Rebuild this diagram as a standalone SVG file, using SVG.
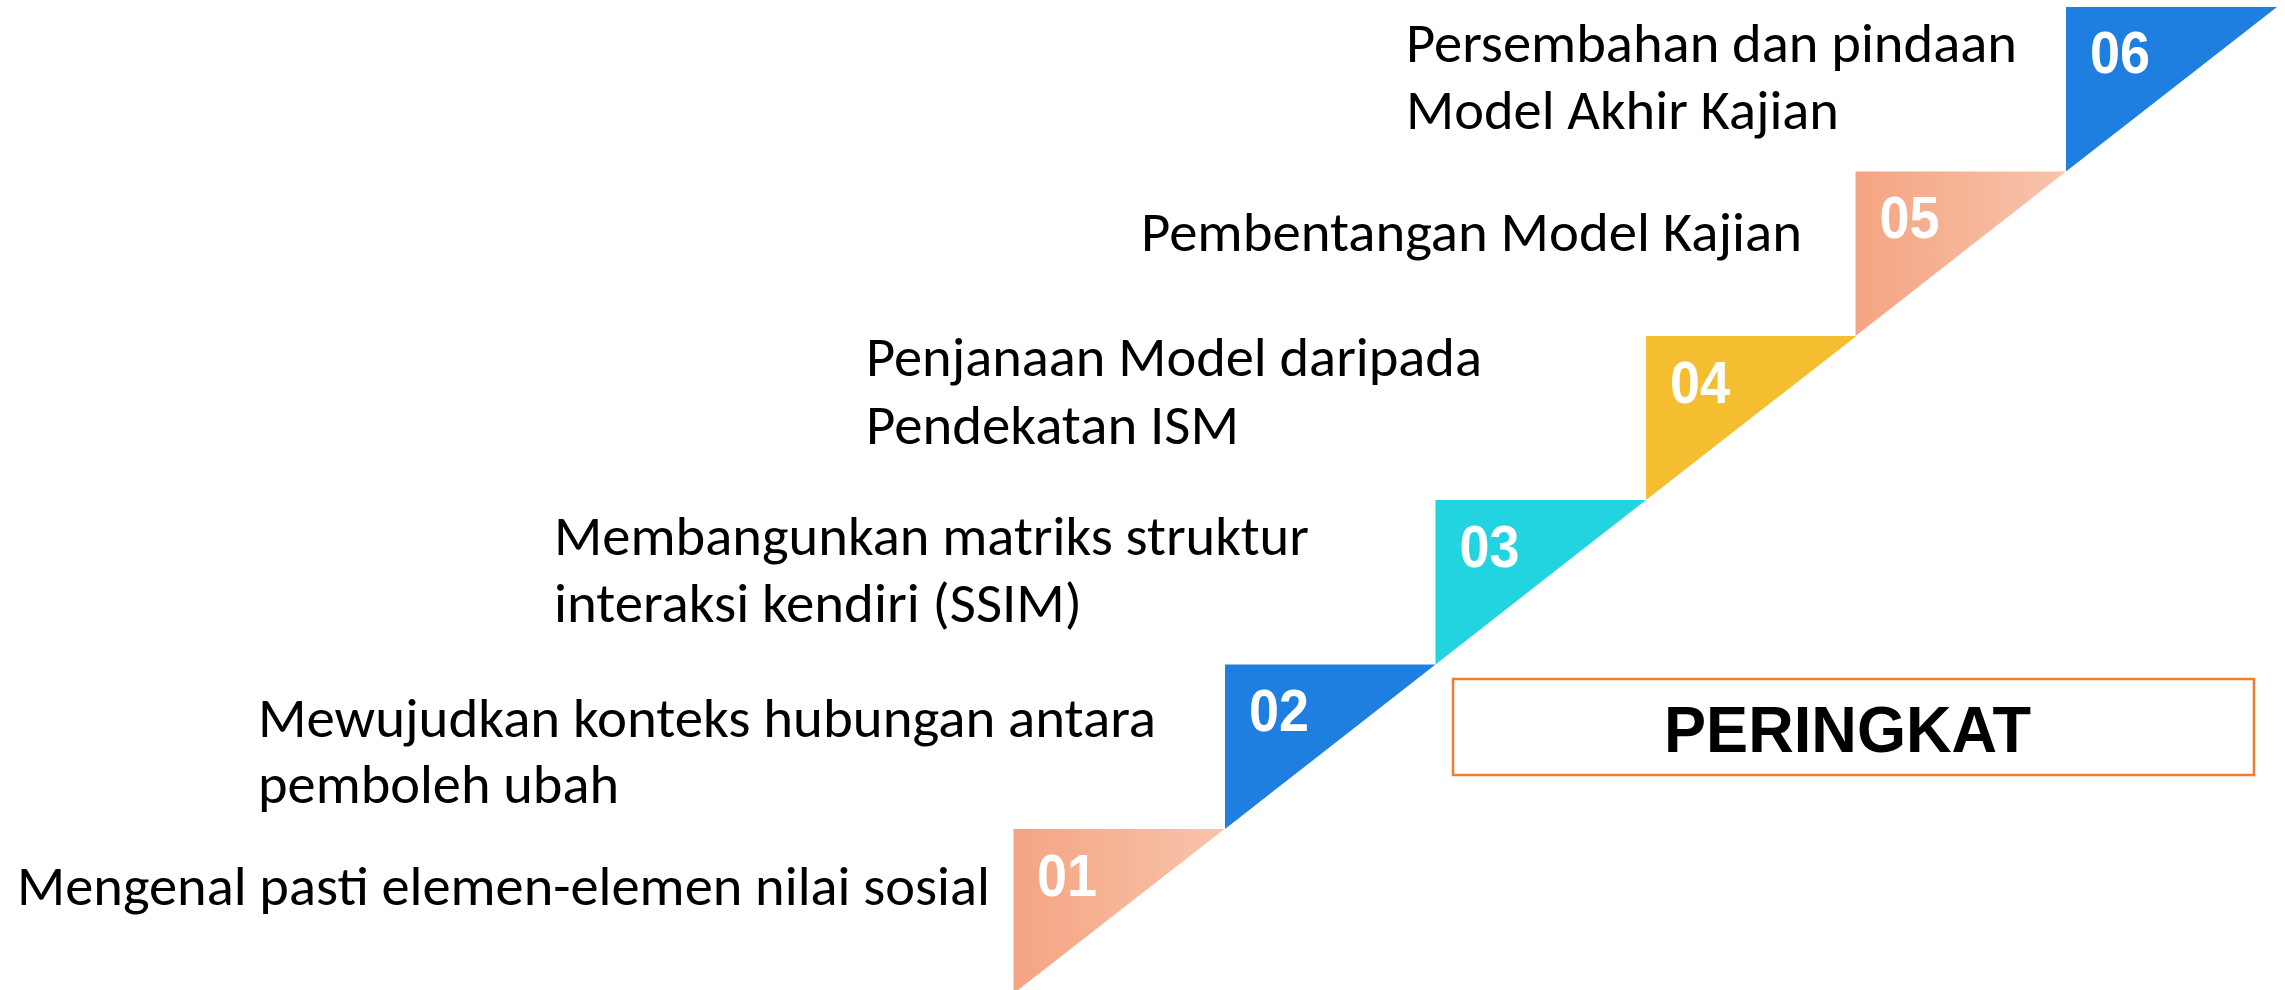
<svg xmlns="http://www.w3.org/2000/svg" width="2285" height="990" viewBox="0 0 2285 990">
  <defs>
    <linearGradient id="peach" x1="0" y1="0" x2="1" y2="0">
      <stop offset="0" stop-color="#F4A482"/>
      <stop offset="1" stop-color="#F8C4AB"/>
    </linearGradient>
  </defs>
  <style>
    .lbl { font-family: "Carlito", "Lato", "Liberation Sans", sans-serif; font-size: 56px; fill: #000; }
    .num { font-family: "Liberation Sans", Arial, sans-serif; font-weight: bold; font-size: 59px; fill: #fff; }
    .title { font-family: "Liberation Sans", Arial, sans-serif; font-weight: bold; font-size: 65px; fill: #000; }
    .peach { fill: url(#peach); }
    .blue { fill: #1E7FE0; }
    .cyan { fill: #22D4E0; }
    .yellow { fill: #F4BE30; }
  </style>
  <rect width="2285" height="990" fill="#fff"/>

  <g id="step01">
    <polygon class="peach" points="1013.5,829 1224.5,829 1013.5,993.5"/>
    <text class="num" x="1037" y="896" textLength="60" lengthAdjust="spacingAndGlyphs">01</text>
    <text class="lbl" x="17" y="905" textLength="973" lengthAdjust="spacingAndGlyphs">Mengenal pasti elemen-elemen nilai sosial</text>
  </g>

  <g id="step02">
    <polygon class="blue" points="1225,664.5 1435.5,664.5 1225,829"/>
    <text class="num" x="1249" y="731" textLength="60" lengthAdjust="spacingAndGlyphs">02</text>
    <text class="lbl" x="258" y="737" textLength="898" lengthAdjust="spacingAndGlyphs">Mewujudkan konteks hubungan antara</text>
    <text class="lbl" x="258" y="803" textLength="361" lengthAdjust="spacingAndGlyphs">pemboleh ubah</text>
  </g>

  <g id="step03">
    <polygon class="cyan" points="1435.5,500 1646,500 1435.5,664.5"/>
    <text class="num" x="1459.5" y="567" textLength="60" lengthAdjust="spacingAndGlyphs">03</text>
    <text class="lbl" x="554" y="555" textLength="755" lengthAdjust="spacingAndGlyphs">Membangunkan matriks struktur</text>
    <text class="lbl" x="554" y="622" textLength="528" lengthAdjust="spacingAndGlyphs">interaksi kendiri (SSIM)</text>
  </g>

  <g id="step04">
    <polygon class="yellow" points="1646,336 1856.5,336 1646,500"/>
    <text class="num" x="1670" y="403" textLength="60" lengthAdjust="spacingAndGlyphs">04</text>
    <text class="lbl" x="866" y="376" textLength="616" lengthAdjust="spacingAndGlyphs">Penjanaan Model daripada</text>
    <text class="lbl" x="866" y="444" textLength="373" lengthAdjust="spacingAndGlyphs">Pendekatan ISM</text>
  </g>

  <g id="step05">
    <polygon class="peach" points="1855.5,171.5 2066,171.5 1855.5,336"/>
    <text class="num" x="1879.5" y="238" textLength="60" lengthAdjust="spacingAndGlyphs">05</text>
    <text class="lbl" x="1141" y="251" textLength="661" lengthAdjust="spacingAndGlyphs">Pembentangan Model Kajian</text>
  </g>

  <g id="step06">
    <polygon class="blue" points="2066,7 2277,7 2066,171.5"/>
    <text class="num" x="2090" y="73" textLength="60" lengthAdjust="spacingAndGlyphs">06</text>
    <text class="lbl" x="1406" y="62" textLength="611" lengthAdjust="spacingAndGlyphs">Persembahan dan pindaan</text>
    <text class="lbl" x="1406" y="129" textLength="433" lengthAdjust="spacingAndGlyphs">Model Akhir Kajian</text>
  </g>

  <g id="peringkat">
    <rect x="1453" y="679" width="801" height="96" fill="#fff" stroke="#ED7D31" stroke-width="2.5"/>
    <text class="title" x="1664" y="752" textLength="367" lengthAdjust="spacingAndGlyphs">PERINGKAT</text>
  </g>

  <g id="connectors"/>
</svg>
